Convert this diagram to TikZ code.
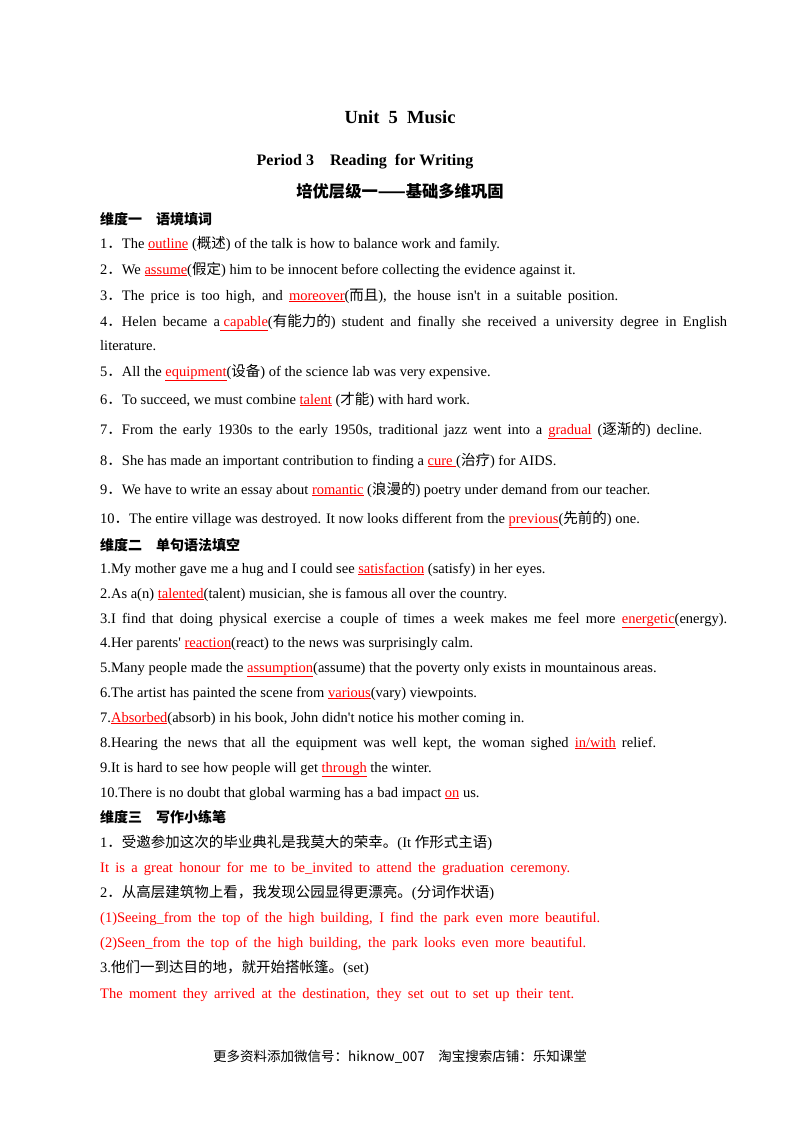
\documentclass[tikz,border=0pt]{standalone}
\usepackage{fontspec}
\setmainfont{Liberation Serif}
\newfontfamily\cjk{Noto Sans CJK SC}
\newcommand{\zh}[1]{{\cjk #1}}
\newcommand{\dn}{{\cjk ．}}
\newcommand{\ap}{\textquotesingle}
\newcommand{\ans}[1]{{\color{red}\underline{#1}}}
\newcommand{\sj}[2]{\makebox[#1pt][s]{#2}}
\begin{document}
\begin{tikzpicture}[x=1pt,y=-1pt,
  ln/.style={anchor=base west,inner sep=0pt,font=\fontsize{14.5}{16}\selectfont},
  rd/.style={ln,text=red},
  hb/.style={ln,font=\fontsize{14}{16}\selectfont\bfseries\cjk},
  hd/.style={anchor=base,inner sep=0pt,font=\bfseries}]
\useasboundingbox (0,0) rectangle (800,1132);
\node[hd,font=\fontsize{18.5}{20}\selectfont\bfseries] (t) at (400,123) {Unit\ \ 5\ \ Music};
\node[hd,font=\fontsize{16}{18}\selectfont\bfseries] (p) at (365,165) {Period 3\quad Reading\ \ for Writing};
\node[hd,font=\fontsize{16.3}{18}\selectfont\bfseries\cjk] (q) at (400,197) {培优层级一——基础多维巩固};
\node[hb] (h1) at (100,224) {维度一\quad 语境填词};
\node[ln] (a1) at (100,248) {1\dn The \ans{outline} (\zh{概述}) of the talk is how to balance work and family.};
\node[ln] (a2) at (100,274) {2\dn We \ans{assume}(\zh{假定}) him to be innocent before collecting the evidence against it.};
\node[ln] (a3) at (100,300) {\sj{518}{3\dn The price is too high, and \ans{moreover}(\zh{而且}), the house isn\ap t in a suitable position.}};
\node[ln] (a4) at (100,326) {\sj{627}{4\dn Helen became a\ans{ capable}(\zh{有能力的}) student and finally she received a university degree in English}};
\node[ln] (a4b) at (100,350) {literature.};
\node[ln] (a5) at (100,376) {5\dn All the \ans{equipment}(\zh{设备}) of the science lab was very expensive.};
\node[ln] (a6) at (100,404) {6\dn To succeed, we must combine \ans{talent} (\zh{才能}) with hard work.};
\node[ln] (a7) at (100,434) {\sj{602}{7\dn From the early 1930s to the early 1950s, traditional jazz went into a \ans{gradual} (\zh{逐渐的}) decline.}};
\node[ln] (a8) at (100,465) {8\dn She has made an important contribution to finding a \ans{cure }(\zh{治疗}) for AIDS.};
\node[ln] (a9) at (100,494) {9\dn We have to write an essay about \ans{romantic} (\zh{浪漫的}) poetry under demand from our teacher.};
\node[ln] (a10) at (100,523) {10\dn The entire village was destroyed. It now looks different from the \ans{previous}(\zh{先前的}) one.};
\node[hb] (h2) at (100,550) {维度二\quad 单句语法填空};
\node[ln] (b1) at (100,573) {1.My mother gave me a hug and I could see \ans{satisfaction} (satisfy) in her eyes.};
\node[ln] (b2) at (100,598) {2.As a(n) \ans{talented}(talent) musician, she is famous all over the country.};
\node[ln] (b3) at (100,623) {\sj{627}{3.I find that doing physical exercise a couple of times a week makes me feel more \ans{energetic}(energy).}};
\node[ln] (b4) at (100,647) {4.Her parents\ap\ \ans{reaction}(react) to the news was surprisingly calm.};
\node[ln] (b5) at (100,672) {5.Many people made the \ans{assumption}(assume) that the poverty only exists in mountainous areas.};
\node[ln] (b6) at (100,697) {6.The artist has painted the scene from \ans{various}(vary) viewpoints.};
\node[ln] (b7) at (100,722) {7.\ans{Absorbed}(absorb) in his book, John didn\ap t notice his mother coming in.};
\node[ln] (b8) at (100,747) {\sj{556}{8.Hearing the news that all the equipment was well kept, the woman sighed \ans{in/with} relief.}};
\node[ln] (b9) at (100,772) {9.It is hard to see how people will get \ans{through} the winter.};
\node[ln] (b10) at (100,797) {10.There is no doubt that global warming has a bad impact \ans{on} us.};
\node[hb] (h3) at (100,822) {维度三\quad 写作小练笔};
\node[ln] (c1) at (100,847) {1\dn\zh{受邀参加这次的毕业典礼是我莫大的荣幸。}(It \zh{作形式主语})};
\node[rd] (c1a) at (100,872) {\sj{470}{It is a great honour for me to be\_invited to attend the graduation ceremony.}};
\node[ln] (c2) at (100,897) {2\dn\zh{从高层建筑物上看，我发现公园显得更漂亮。}(\zh{分词作状语})};
\node[rd] (c2a) at (100,922) {\sj{500}{(1)Seeing\_from the top of the high building, I find the park even more beautiful.}};
\node[rd] (c2b) at (100,947) {\sj{486}{(2)Seen\_from the top of the high building, the park looks even more beautiful.}};
\node[ln] (c3) at (100,972) {3.\zh{他们一到达目的地，就开始搭帐篷。}(set)};
\node[rd] (c3a) at (100,998) {\sj{474}{The moment they arrived at the destination, they set out to set up their tent.}};
\node[anchor=base,inner sep=0pt,font=\fontsize{13.5}{15}\selectfont\cjk] (f) at (400,1061) {更多资料添加微信号：hiknow\_007\quad 淘宝搜索店铺：乐知课堂};
\end{tikzpicture}
\end{document}
